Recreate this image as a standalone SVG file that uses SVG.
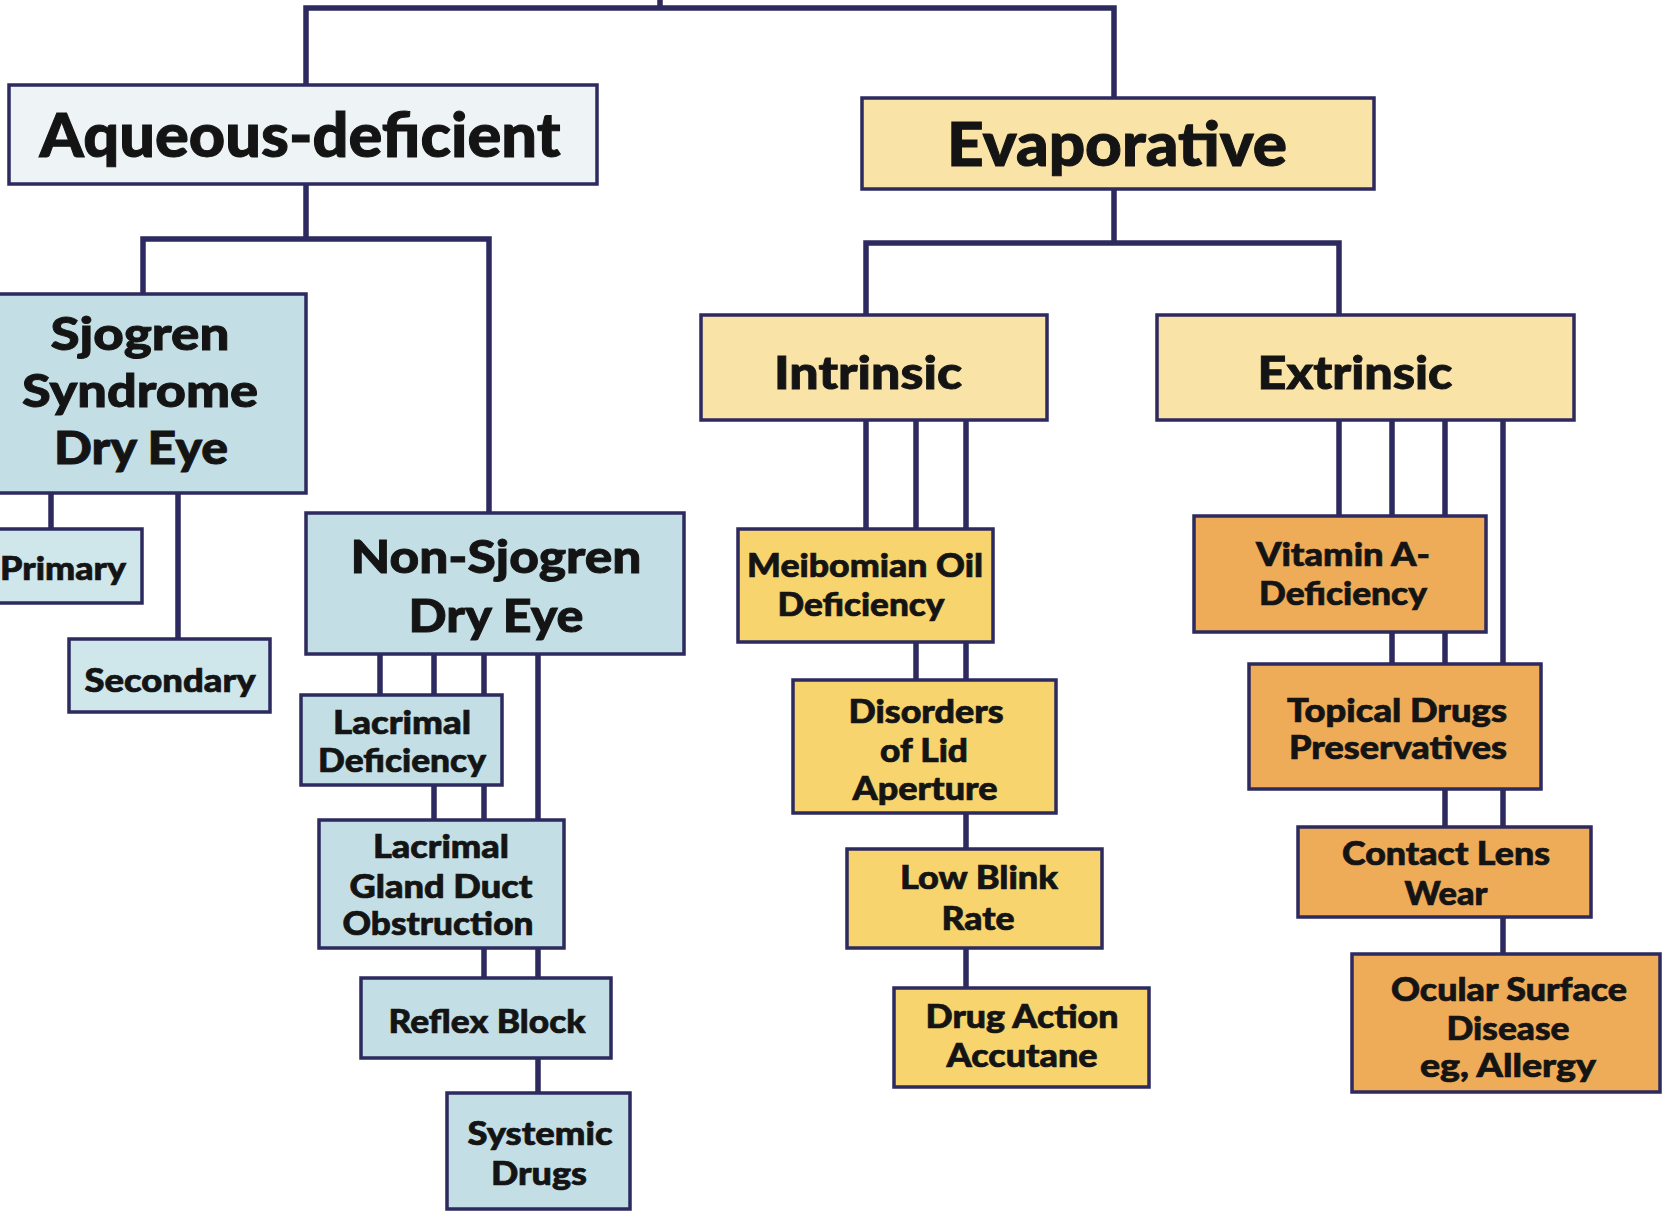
<svg xmlns="http://www.w3.org/2000/svg" width="1664" height="1212" viewBox="0 0 1664 1212">
<style>
.bg{fill:#ffffff}
.c{stroke:#2c2a5e;stroke-width:5.5;fill:none;stroke-linecap:square}
.box{stroke:#2c2a5e;stroke-width:3.5}
.aq{fill:#eef3f6}
.bl{fill:#c3dfe5}
.bl2{fill:#cfe6eb}
.ev{fill:#f9e3a7}
.in{fill:#f7d46d}
.ex{fill:#eeab58}
text{font-family:Lato,"Open Sans","Liberation Sans",sans-serif;font-weight:900;fill:#141414;stroke:#141414;stroke-width:0.7;text-anchor:middle}
.t1{font-size:60px;stroke-width:1}
.t2{font-size:46px;stroke-width:0.9}
.t3{font-size:32px}
</style>
<rect class="bg" x="0" y="0" width="1664" height="1212"/>
<g id="connectors">
<path class="c" d="M660 0V8M306 8H1114M306 8V85M1114 8V98"/>
<path class="c" d="M306 184V239M143 239H489M143 239V294M489 239V513"/>
<path class="c" d="M51 493V529M178 493V639"/>
<path class="c" d="M380 655V695M434 655V820M484 655V978M538 655V1093"/>
<path class="c" d="M1114 189V243M866 243H1339M866 243V315M1339 243V315"/>
<path class="c" d="M866 420V529M916 420V680M966 420V988"/>
<path class="c" d="M1339 420V516M1392 420V664M1445 420V827M1503 420V954"/>
</g>
<g id="aqueous-deficient"><rect class="box aq" x="9" y="85" width="588" height="99"/><text class="t1" x="300" y="157" textLength="521" lengthAdjust="spacingAndGlyphs">Aqueous-deficient</text></g>
<g id="evaporative"><rect class="box ev" x="862" y="98" width="512" height="91"/><text class="t1" x="1117" y="166" textLength="340" lengthAdjust="spacingAndGlyphs">Evaporative</text></g>
<g id="sjogren"><rect class="box bl" x="-4" y="294" width="310" height="199"/>
<text class="t2" x="140" y="350" textLength="179" lengthAdjust="spacingAndGlyphs">Sjogren</text>
<text class="t2" x="140" y="407" textLength="236" lengthAdjust="spacingAndGlyphs">Syndrome</text>
<text class="t2" x="141" y="464" textLength="174" lengthAdjust="spacingAndGlyphs">Dry Eye</text></g>
<g id="primary"><rect class="box bl2" x="-4" y="529" width="146" height="74"/><text class="t3" x="63" y="580" textLength="126" lengthAdjust="spacingAndGlyphs">Primary</text></g>
<g id="secondary"><rect class="box bl2" x="69" y="639" width="201" height="73"/><text class="t3" x="170" y="692" textLength="171" lengthAdjust="spacingAndGlyphs">Secondary</text></g>
<g id="non-sjogren"><rect class="box bl" x="306" y="513" width="378" height="141"/>
<text class="t2" x="496" y="573" textLength="291" lengthAdjust="spacingAndGlyphs">Non-Sjogren</text>
<text class="t2" x="496" y="632" textLength="175" lengthAdjust="spacingAndGlyphs">Dry Eye</text></g>
<g id="lacrimal-deficiency"><rect class="box bl" x="301" y="695" width="201" height="90"/>
<text class="t3" x="402" y="734" textLength="138" lengthAdjust="spacingAndGlyphs">Lacrimal</text>
<text class="t3" x="402" y="772" textLength="168" lengthAdjust="spacingAndGlyphs">Deficiency</text></g>
<g id="lacrimal-gland"><rect class="box bl" x="319" y="820" width="245" height="128"/>
<text class="t3" x="441" y="858" textLength="136" lengthAdjust="spacingAndGlyphs">Lacrimal</text>
<text class="t3" x="441" y="898" textLength="183" lengthAdjust="spacingAndGlyphs">Gland Duct</text>
<text class="t3" x="438" y="935" textLength="191" lengthAdjust="spacingAndGlyphs">Obstruction</text></g>
<g id="reflex-block"><rect class="box bl" x="361" y="978" width="250" height="80"/><text class="t3" x="487" y="1033" textLength="197" lengthAdjust="spacingAndGlyphs">Reflex Block</text></g>
<g id="systemic-drugs"><rect class="box bl" x="447" y="1093" width="183" height="116"/>
<text class="t3" x="540" y="1145" textLength="145" lengthAdjust="spacingAndGlyphs">Systemic</text>
<text class="t3" x="539" y="1185" textLength="96" lengthAdjust="spacingAndGlyphs">Drugs</text></g>
<g id="intrinsic"><rect class="box ev" x="701" y="315" width="346" height="105"/><text class="t2" x="868" y="389" textLength="188" lengthAdjust="spacingAndGlyphs">Intrinsic</text></g>
<g id="extrinsic"><rect class="box ev" x="1157" y="315" width="417" height="105"/><text class="t2" x="1355" y="389" textLength="195" lengthAdjust="spacingAndGlyphs">Extrinsic</text></g>
<g id="meibomian"><rect class="box in" x="738" y="529" width="255" height="113"/>
<text class="t3" x="865" y="577" textLength="236" lengthAdjust="spacingAndGlyphs">Meibomian Oil</text>
<text class="t3" x="861" y="616" textLength="167" lengthAdjust="spacingAndGlyphs">Deficiency</text></g>
<g id="disorders-lid"><rect class="box in" x="793" y="680" width="263" height="133"/>
<text class="t3" x="926" y="723" textLength="155" lengthAdjust="spacingAndGlyphs">Disorders</text>
<text class="t3" x="924" y="762" textLength="88" lengthAdjust="spacingAndGlyphs">of Lid</text>
<text class="t3" x="925" y="800" textLength="145" lengthAdjust="spacingAndGlyphs">Aperture</text></g>
<g id="low-blink"><rect class="box in" x="847" y="849" width="255" height="99"/>
<text class="t3" x="979" y="889" textLength="158" lengthAdjust="spacingAndGlyphs">Low Blink</text>
<text class="t3" x="978" y="930" textLength="73" lengthAdjust="spacingAndGlyphs">Rate</text></g>
<g id="drug-action"><rect class="box in" x="894" y="988" width="255" height="99"/>
<text class="t3" x="1022" y="1028" textLength="193" lengthAdjust="spacingAndGlyphs">Drug Action</text>
<text class="t3" x="1022" y="1067" textLength="151" lengthAdjust="spacingAndGlyphs">Accutane</text></g>
<g id="vitamin-a"><rect class="box ex" x="1194" y="516" width="292" height="116"/>
<text class="t3" x="1343" y="566" textLength="174" lengthAdjust="spacingAndGlyphs">Vitamin A-</text>
<text class="t3" x="1343" y="605" textLength="168" lengthAdjust="spacingAndGlyphs">Deficiency</text></g>
<g id="topical-drugs"><rect class="box ex" x="1249" y="664" width="292" height="125"/>
<text class="t3" x="1397" y="722" textLength="220" lengthAdjust="spacingAndGlyphs">Topical Drugs</text>
<text class="t3" x="1398" y="759" textLength="218" lengthAdjust="spacingAndGlyphs">Preservatives</text></g>
<g id="contact-lens"><rect class="box ex" x="1298" y="827" width="293" height="90"/>
<text class="t3" x="1446" y="865" textLength="208" lengthAdjust="spacingAndGlyphs">Contact Lens</text>
<text class="t3" x="1446" y="905" textLength="83" lengthAdjust="spacingAndGlyphs">Wear</text></g>
<g id="ocular-surface"><rect class="box ex" x="1352" y="954" width="308" height="138"/>
<text class="t3" x="1509" y="1001" textLength="236" lengthAdjust="spacingAndGlyphs">Ocular Surface</text>
<text class="t3" x="1508" y="1040" textLength="123" lengthAdjust="spacingAndGlyphs">Disease</text>
<text class="t3" x="1508" y="1077" textLength="176" lengthAdjust="spacingAndGlyphs">eg, Allergy</text></g>
</svg>
